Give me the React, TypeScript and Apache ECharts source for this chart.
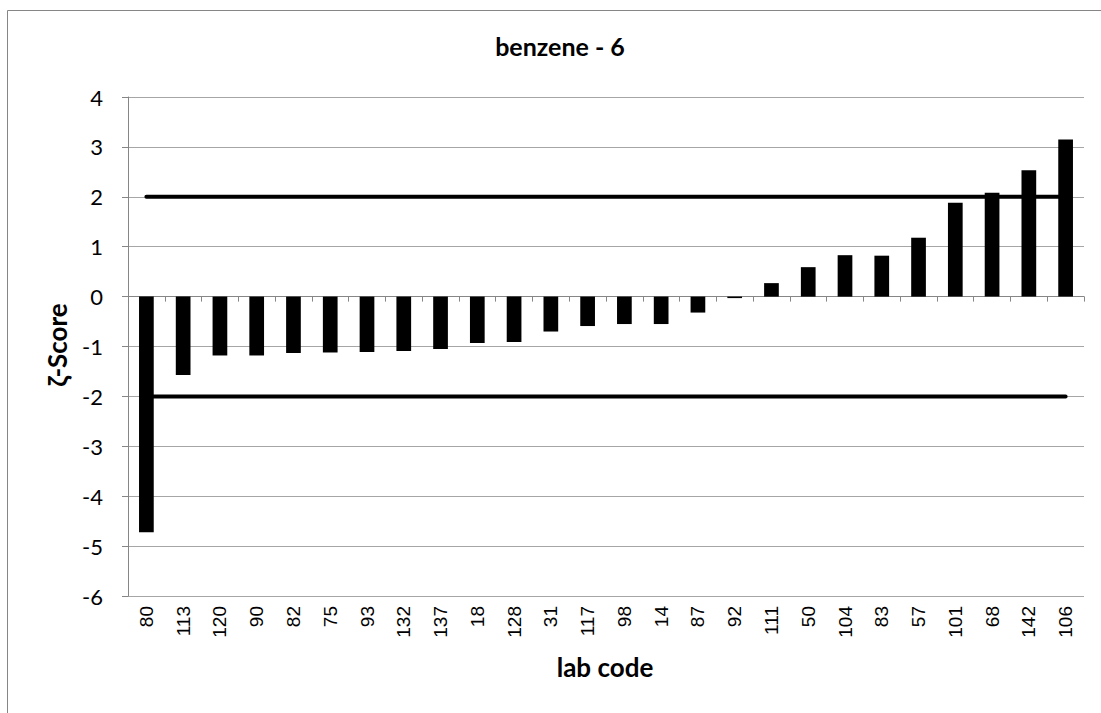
import React, { useEffect, useRef } from "react";
import * as echarts from "echarts";

const labCodes = ["80","113","120","90","82","75","93","132","137","18","128","31","117","98","14","87","92","111","50","104","83","57","101","68","142","106"];
const zetaScores = [-4.72,-1.57,-1.18,-1.18,-1.13,-1.12,-1.11,-1.09,-1.05,-0.93,-0.91,-0.70,-0.59,-0.55,-0.55,-0.32,-0.03,0.27,0.59,0.83,0.82,1.18,1.88,2.08,2.53,3.15];
const upperLimit = [2,2,2,2,2,2,2,2,2,2,2,2,2,2,2,2,2,2,2,2,2,2,2,2,2,2];
const lowerLimit = [-2,-2,-2,-2,-2,-2,-2,-2,-2,-2,-2,-2,-2,-2,-2,-2,-2,-2,-2,-2,-2,-2,-2,-2,-2,-2];
const yMin = -6;
const yMax = 4;

const titleFont = "Lato, 'Open Sans', sans-serif";

export default function App() {
  const ref = useRef<HTMLDivElement>(null);
  useEffect(() => {
    if (!ref.current) return;
    const chart = echarts.init(ref.current, undefined, { renderer: "svg" });
    chart.setOption({
      animation: false,
      backgroundColor: "#ffffff",
      graphic: [
        {
          type: "rect",
          left: 5,
          top: 8,
          shape: { x: 0, y: 0, width: 1300, height: 900 },
          style: { fill: "none", stroke: "#868686", lineWidth: 1 },
          silent: true,
          z: -10,
        },
        {
          type: "text",
          x: 560,
          y: 46,
          style: {
            text: "benzene - 6",
            font: `bold 25px ${titleFont}`,
            fill: "#000",
            align: "center",
            verticalAlign: "middle",
          },
        },
        {
          type: "text",
          x: 605,
          y: 667,
          style: {
            text: "lab code",
            font: `bold 26px ${titleFont}`,
            fill: "#000",
            align: "center",
            verticalAlign: "middle",
          },
        },
        {
          type: "text",
          x: 57,
          y: 345,
          rotation: Math.PI / 2,
          style: {
            text: "ζ-Score",
            font: `bold 26px ${titleFont}`,
            fill: "#000",
            align: "center",
            verticalAlign: "middle",
          },
        },
      ],
      grid: { left: 128, right: 17, top: 97, bottom: 117, containLabel: false },
      xAxis: [
        {
          type: "category",
          data: labCodes,
          position: "bottom",
          axisLine: { show: false, onZero: false },
          axisTick: { show: false },
          axisLabel: {
            rotate: 90,
            margin: 10,
            fontFamily: "'Liberation Sans', Arial, sans-serif",
            fontSize: 19,
            color: "#000",
          },
          splitLine: { show: false },
        },
        {
          type: "category",
          data: labCodes,
          position: "top",
          axisLine: { show: true, onZero: true, lineStyle: { color: "#868686", width: 1 } },
          axisTick: { show: true, inside: true, length: 5, lineStyle: { color: "#868686" } },
          axisLabel: { show: false },
          splitLine: { show: false },
        },
      ],
      yAxis: {
        type: "value",
        min: yMin,
        max: yMax,
        interval: 1,
        axisLine: { show: true, lineStyle: { color: "#868686", width: 1 } },
        axisTick: { show: true, length: 6, lineStyle: { color: "#868686" } },
        axisLabel: {
          margin: 25,
          fontFamily: titleFont,
          fontSize: 22,
          color: "#000",
        },
        splitLine: { show: true, lineStyle: { color: "#a6a6a6", width: 1 } },
      },
      series: [
        {
          type: "bar",
          xAxisIndex: 0,
          data: zetaScores,
          barWidth: "40%",
          itemStyle: { color: "#000" },
          z: 2,
        },
        {
          type: "line",
          xAxisIndex: 0,
          data: upperLimit,
          showSymbol: false,
          symbol: "none",
          lineStyle: { color: "#000", width: 4, cap: "round" },
          z: 3,
        },
        {
          type: "line",
          xAxisIndex: 0,
          data: lowerLimit,
          showSymbol: false,
          symbol: "none",
          lineStyle: { color: "#000", width: 4, cap: "round" },
          z: 3,
        },
      ],
    });
    return () => chart.dispose();
  }, []);
  return (
    <div
      ref={ref}
      style={{ position: "fixed", left: 0, top: 0, width: 1101, height: 713 }}
    />
  );
}
